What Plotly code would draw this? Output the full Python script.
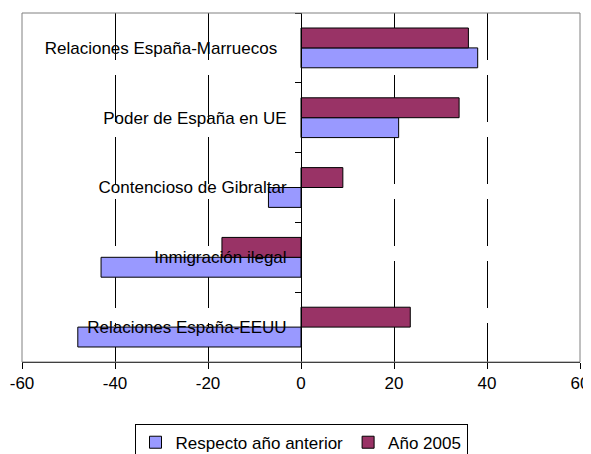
import plotly.graph_objects as go

# categorías de abajo hacia arriba (orden del eje de Plotly)
TEMAS = [
    "Relaciones España-EEUU",
    "Inmigración ilegal",
    "Contencioso de Gibraltar",
    "Poder de España en UE",
    "Relaciones España-Marruecos\u00a0\u00a0",
]
RESPECTO_ANTERIOR = [-48, -43, -7, 21, 38]
ANO_2005 = [23.5, -17, 9, 34, 36]
TICKS_X = [-60, -40, -20, 0, 20, 40, 60]
TICKS_X_TEXTO = ["-60", "-40", "-20", "0", "20", "40", "60"]

LILA = "#9999FF"
GRANATE = "#993366"
FUENTE = "Liberation Sans, Arial, sans-serif"

fig = go.Figure()
fig.add_bar(
    name="Respecto año anterior", y=TEMAS, x=RESPECTO_ANTERIOR, orientation="h",
    marker=dict(color=LILA, line=dict(color="black", width=1)),
)
fig.add_bar(
    name="Año 2005", y=TEMAS, x=ANO_2005, orientation="h",
    marker=dict(color=GRANATE, line=dict(color="black", width=1)),
)

# la página deja 8 px de margen alrededor del gráfico
fig.update_layout(
    width=583, height=446,
    paper_bgcolor="white", plot_bgcolor="white",
    font=dict(family=FUENTE, size=16, color="black"),
    margin=dict(l=14, r=11, t=5, b=92, autoexpand=False),
    barmode="group", bargap=0.43, bargroupgap=0,
    showlegend=True,
    legend=dict(
        orientation="h", x=0.5, xanchor="center",
        yref="container", y=0.068, yanchor="top",
        bordercolor="black", borderwidth=1, bgcolor="white",
        font=dict(size=17), traceorder="normal",
    ),
    # marco gris del área de trazado
    shapes=[dict(type="rect", xref="paper", yref="paper", x0=0, x1=1, y0=0, y1=1,
                 line=dict(color="#808080", width=1), layer="above")],
)
fig.update_xaxes(
    range=[-60, 60], tickvals=TICKS_X, ticktext=TICKS_X_TEXTO,
    ticks="outside", ticklen=6, tickcolor="black",
    showline=True, linecolor="black", linewidth=1,
    showgrid=True, gridcolor="black", gridwidth=1, griddash="47px,15px",
    zeroline=False, tickfont=dict(size=17), automargin=False,
    ticklabeloverflow="allow",
)
fig.update_yaxes(
    type="category", anchor="free", position=0.5,
    showline=True, linecolor="black", linewidth=1,
    ticks="outside", ticklen=6, tickcolor="black", tickson="boundaries",
    ticklabelstandoff=11, showgrid=False, tickfont=dict(size=17),
    automargin=False, ticklabeloverflow="allow",
)

fig.write_html("out.html")
